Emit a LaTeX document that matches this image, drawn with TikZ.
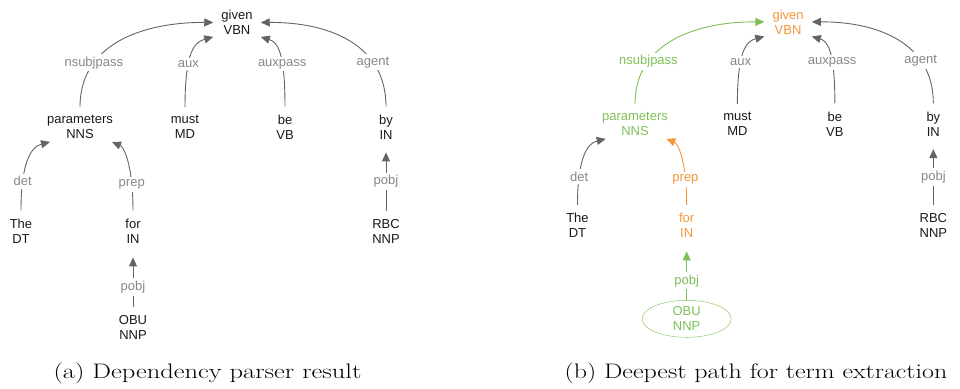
\documentclass[tikz,border=0pt]{standalone}
\usepackage{fontspec}
\usepackage{graphicx}
\newfontfamily\arialf{Liberation Sans}
\usetikzlibrary{arrows.meta,shapes.geometric}
\definecolor{edgec}{RGB}{100,100,100}
\definecolor{lblc}{RGB}{135,135,135}
\definecolor{txtc}{RGB}{25,25,25}
\definecolor{grn}{RGB}{125,192,85}
\definecolor{org}{RGB}{242,150,60}
\tikzset{
  tok/.style={font=\arialf\fontsize{13}{15}\selectfont, color=txtc, align=center, inner xsep=8pt, inner ysep=8pt},
  lbl/.style={font=\arialf\fontsize{13}{15}\selectfont, color=lblc, inner xsep=2pt, inner ysep=2.5pt},
  lblbg/.style={fill=white},
  depedge/.style={color=edgec, line width=0.9pt, -{Triangle[length=9pt,width=8pt]}},
  capst/.style={font=\fontsize{21}{25}\selectfont, color=black, inner sep=0pt},
  givenst/.style={}, nsubst/.style={}, prepst/.style={}, pobjst/.style={}, obust/.style={}
}
\newcommand{\deptree}[1]{%
  \node[tok,givenst] (#1given) at (237,22.5) {given\\VBN};
  \node[tok,nsubst] (#1par) at (80,127) {parameters\\NNS};
  \node[tok] (#1must) at (185,127) {must\\MD};
  \node[tok] (#1be) at (285,127) {be\\VB};
  \node[tok] (#1by) at (386,127) {by\\IN};
  \node[tok] (#1the) at (21,231) {The\\DT};
  \node[tok,prepst] (#1for) at (133,231) {for\\IN};
  \node[tok] (#1rbc) at (386,231) {RBC\\NNP};
  \node[tok,pobjst,obust] (#1obu) at (133,327) {OBU\\NNP};
  \draw[depedge,nsubst] (#1par.north) .. controls (80,40) and (150,22) .. (#1given.west)
     node[lbl,nsubst,lblbg,pos=0.27] {nsubjpass};
  \draw[depedge] (#1must.north) .. controls (185,50) and (195,42) .. ([yshift=6pt]#1given.south west)
     node[lbl,lblbg,pos=0.34] {aux};
  \draw[depedge] (#1be.north) .. controls (285,50) and (277,42) .. ([yshift=6pt]#1given.south east)
     node[lbl,lblbg,pos=0.34] {auxpass};
  \draw[depedge] (#1by.north) .. controls (386,42) and (325,22) .. (#1given.east)
     node[lbl,lblbg,pos=0.28] {agent};
  \draw[depedge] (#1the.north) .. controls (21,165) and (30,147) .. ([xshift=-30pt,yshift=5pt]#1par.south)
     node[lbl,lblbg,pos=0.25] {det};
  \draw[depedge,prepst] (#1for.north) .. controls (133,165) and (124,147) .. ([xshift=32pt,yshift=5pt]#1par.south)
     node[lbl,prepst,lblbg,pos=0.22] {prep};
  \draw[depedge] (#1rbc.north) -- ([yshift=-5pt]#1by.south)
     node[lbl,lblbg,pos=0.5] {pobj};
  \draw[depedge,pobjst] (#1obu.north) -- ([yshift=-6pt]#1for.south)
     node[lbl,pobjst,lblbg,pos=0.4] {pobj};
}
\begin{document}
\begin{tikzpicture}[x=1pt,y=-1pt]
\useasboundingbox (0,0) rectangle (960,388);
\begin{scope}
  \deptree{a}
\end{scope}
\begin{scope}[shift={(557,0)}, scale=0.975,
  givenst/.style={color=org},
  nsubst/.style={color=grn},
  prepst/.style={color=org},
  pobjst/.style={color=grn},
  obust/.style={ellipse, draw=grn, minimum width=89pt, minimum height=37pt, inner sep=0pt}]
  \deptree{b}
\end{scope}
\node[capst] (capa) at (207.5,373) {\scalebox{1.26}[1]{(a) Dependency parser result}};
\node[capst] (capb) at (756,373) {\scalebox{1.235}[1]{(b) Deepest path for term extraction}};
\end{tikzpicture}
\end{document}
